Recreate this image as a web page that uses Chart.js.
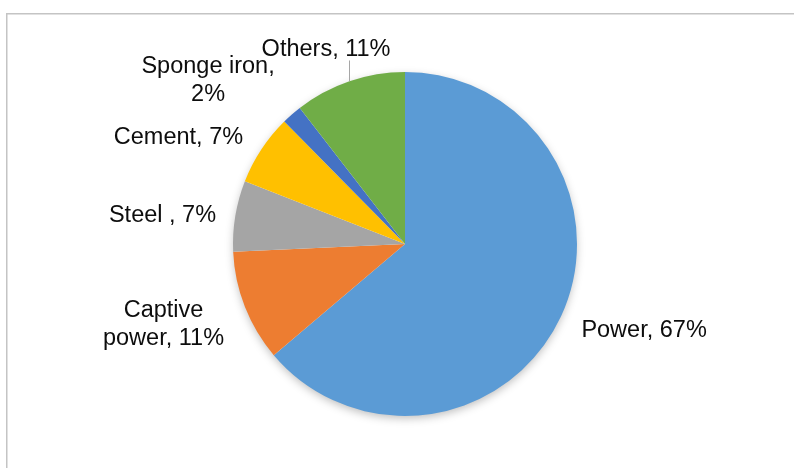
<!DOCTYPE html>
<html>
<head>
<meta charset="utf-8">
<script src="https://cdn.jsdelivr.net/npm/chart.js@4"></script>
<style>
  html, body { margin: 0; padding: 0; background: #fff; }
  #wrap { width: 794px; height: 468px; position: relative; }
</style>
</head>
<body>
<div id="wrap"><canvas id="c" width="794" height="468"></canvas></div>
<script>
// ---- data ----
const categories = ['Power', 'Captive power', 'Steel ', 'Cement', 'Sponge iron', 'Others'];
const values = [67, 11, 7, 7, 2, 11];
const colors = ['#5B9BD5', '#ED7D31', '#A5A5A5', '#FFC000', '#4472C4', '#70AD47'];

// label placement relative to pie centre, in units of radius (x centre, first baseline y)
const labelPos = [
  [1.390, 0.541],
  [-1.404, 0.424],
  [-1.410, -0.130],
  [-1.317, -0.581],
  [-1.145, -0.992],
  [-0.459, -1.093]
];
const labelWrap = [null, 130, null, null, 140, null];

const FONT_SIZE = 23.5;
const FONT = FONT_SIZE + 'px "Liberation Sans", Arial, sans-serif';
const LINE_H = 28;

function wrapText(ctx, text, maxW) {
  if (!maxW) return [text];
  const words = text.split(' ');
  const lines = [];
  let cur = '';
  for (const w of words) {
    const test = cur ? cur + ' ' + w : w;
    if (ctx.measureText(test).width > maxW && cur) { lines.push(cur); cur = w; }
    else cur = test;
  }
  if (cur) lines.push(cur);
  return lines;
}

const framePlugin = {
  id: 'frame',
  beforeDraw(chart) {
    const ctx = chart.ctx;
    ctx.save();
    ctx.fillStyle = '#ffffff';
    ctx.fillRect(0, 0, chart.width, chart.height);
    ctx.strokeStyle = '#c4c4c4';
    ctx.lineWidth = 1.5;
    ctx.beginPath();
    ctx.moveTo(6.75, chart.height + 5);
    ctx.lineTo(6.75, 13.75);
    ctx.lineTo(chart.width + 5, 13.75);
    ctx.stroke();
    ctx.restore();
  },
  beforeDatasetsDraw(chart) {
    const arc = chart.getDatasetMeta(0).data[0];
    if (!arc) return;
    const ctx = chart.ctx;
    ctx.save();
    ctx.shadowColor = 'rgba(0,0,0,0.28)';
    ctx.shadowBlur = 10;
    ctx.shadowOffsetY = 3;
    ctx.fillStyle = '#ffffff';
    ctx.beginPath();
    ctx.arc(arc.x, arc.y, arc.outerRadius - 1, 0, Math.PI * 2);
    ctx.fill();
    ctx.restore();
  },
  afterDatasetsDraw(chart) {
    const meta = chart.getDatasetMeta(0);
    const ds = chart.data.datasets[0];
    const ctx = chart.ctx;
    const first = meta.data[0];
    const cx = first.x, cy = first.y, r = first.outerRadius;
    ctx.save();
    ctx.font = FONT;
    ctx.fillStyle = '#0d0d0d';
    ctx.textAlign = 'center';
    ctx.textBaseline = 'alphabetic';
    meta.data.forEach((el, i) => {
      const text = chart.data.labels[i] + ', ' + ds.data[i] + '%';
      const lines = wrapText(ctx, text, labelWrap[i]);
      const x = cx + labelPos[i][0] * r;
      const y = cy + labelPos[i][1] * r;
      lines.forEach((ln, k) => ctx.fillText(ln, x, y + k * LINE_H));
    });
    // leader line for the last slice (Others)
    const lx = cx - 0.323 * r;
    const edgeY = cy - Math.sqrt(r * r - (lx - cx) * (lx - cx));
    ctx.strokeStyle = '#a6a6a6';
    ctx.lineWidth = 1;
    ctx.beginPath();
    ctx.moveTo(Math.round(lx) + 0.5, cy - 1.067 * r);
    ctx.lineTo(Math.round(lx) + 0.5, edgeY);
    ctx.stroke();
    ctx.restore();
  }
};

new Chart(document.getElementById('c'), {
  type: 'pie',
  data: {
    labels: categories,
    datasets: [{
      data: values,
      backgroundColor: colors,
      borderWidth: 0,
      hoverOffset: 0
    }]
  },
  options: {
    responsive: false,
    animation: false,
    events: [],
    layout: { padding: { top: 72, bottom: 52, left: 233, right: 217 } },
    plugins: {
      legend: { display: false },
      tooltip: { enabled: false },
      title: { display: false }
    }
  },
  plugins: [framePlugin]
});
</script>
</body>
</html>
